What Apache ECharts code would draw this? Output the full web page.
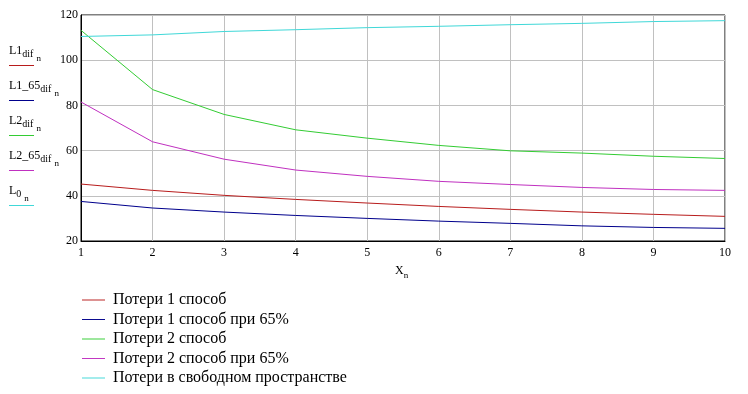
<!DOCTYPE html>
<html>
<head>
<meta charset="utf-8">
<script src="https://cdn.jsdelivr.net/npm/echarts@6/dist/echarts.min.js"></script>
<style>html,body{margin:0;padding:0;background:#fff}#c{width:748px;height:394px}</style>
</head>
<body>
<div id="c"></div>
<script>
const xValues = [1, 2, 3, 4, 5, 6, 7, 8, 9, 10];
const L1dif   = [45.2, 42.4, 40.2, 38.4, 36.8, 35.3, 34.0, 32.8, 31.8, 30.9];
const L1_65dif = [37.5, 34.6, 32.8, 31.3, 30.0, 28.8, 27.8, 26.7, 26.0, 25.6];
const L2dif   = [113.2, 87.0, 76.0, 69.2, 65.5, 62.3, 59.9, 58.9, 57.5, 56.5];
const L2_65dif = [81.5, 63.9, 56.2, 51.4, 48.6, 46.4, 45.0, 43.7, 42.8, 42.4];
const L0      = [110.5, 111.2, 112.7, 113.5, 114.4, 115.0, 115.7, 116.3, 117.1, 117.5];
const seriesNames = ['Потери 1 способ', 'Потери 1 способ при 65%', 'Потери 2 способ', 'Потери 2 способ при 65%', 'Потери в свободном пространстве'];
const seriesColors = ['#b81c1c', '#00008c', '#33cc33', '#c030c0', '#40d8d8'];
const yTicks = [20, 40, 60, 80, 100, 120];
const leftLabels = [['L1','dif','n'], ['L1_65','dif','n'], ['L2','dif','n'], ['L2_65','dif','n'], ['L','0','n']];

const FONT = '"Liberation Serif", "Times New Roman", serif';
const allData = [L1dif, L1_65dif, L2dif, L2_65dif, L0];

const cv = document.createElement('canvas').getContext('2d');
function tw(t, size) { cv.font = size + 'px ' + FONT; return cv.measureText(t).width; }

const graphics = [];
leftLabels.forEach((lab, i) => {
  const lineY = 65 + i * 35;
  const x0 = 9;
  const mainTop = lineY - 20;
  const w1 = tw(lab[0], 12);
  const w2 = tw(lab[1], 10);
  graphics.push({type:'text', left:x0, top:mainTop, style:{text:lab[0], font:'12px ' + FONT, fill:'#000'}});
  graphics.push({type:'text', left:x0 + w1, top:mainTop + 4, style:{text:lab[1], font:'10px ' + FONT, fill:'#000'}});
  graphics.push({type:'text', left:x0 + w1 + w2 + 3, top:mainTop + 9, style:{text:lab[2], font:'9px ' + FONT, fill:'#000'}});
  graphics.push({type:'line', shape:{x1:x0, y1:lineY + 0.5, x2:x0 + 25, y2:lineY + 0.5}, style:{stroke:seriesColors[i], lineWidth:1}});
});
// x axis title X with subscript n
graphics.push({type:'text', left:395, top:265, style:{text:'X', font:'12px ' + FONT, fill:'#000'}});
graphics.push({type:'text', left:395 + tw('X', 12), top:271, style:{text:'n', font:'9px ' + FONT, fill:'#000'}});

const chart = echarts.init(document.getElementById('c'));
chart.setOption({
  animation: false,
  backgroundColor: '#fff',
  grid: {left: 81, right: 23, top: 15, bottom: 153, show: true, borderColor: '#000', borderWidth: 1, backgroundColor: 'transparent'},
  xAxis: {
    type: 'value', min: 1, max: 10, interval: 1,
    axisLine: {show: true, lineStyle: {color: '#000'}},
    axisTick: {show: false},
    axisLabel: {color: '#000', fontFamily: FONT, fontSize: 12, margin: 6},
    splitLine: {show: true, lineStyle: {color: '#c0c0c0', width: 1}}
  },
  yAxis: {
    type: 'value', min: 20, max: 120, interval: 20,
    axisLine: {show: true, lineStyle: {color: '#000'}},
    axisTick: {show: false},
    axisLabel: {color: '#000', fontFamily: FONT, fontSize: 12, margin: 3},
    splitLine: {show: true, lineStyle: {color: '#c0c0c0', width: 1}}
  },
  legend: {
    orient: 'vertical', left: 82, top: 292, height: 110, padding: 0,
    itemWidth: 23, itemHeight: 16, itemGap: 3.5,
    icon: 'path://M0,0H24V1H0Z',
    textStyle: {color: '#000', fontFamily: FONT, fontSize: 16, lineHeight: 16, padding: [0, 0, 0, 3]},
    data: seriesNames
  },
  graphic: graphics,
  series: allData.map((arr, i) => ({
    name: seriesNames[i],
    type: 'line',
    data: xValues.map((x, j) => [x, arr[j]]),
    showSymbol: false,
    symbol: 'none',
    color: seriesColors[i],
    lineStyle: {color: seriesColors[i], width: 1},
    z: 2 + i
  }))
});
</script>
</body>
</html>
